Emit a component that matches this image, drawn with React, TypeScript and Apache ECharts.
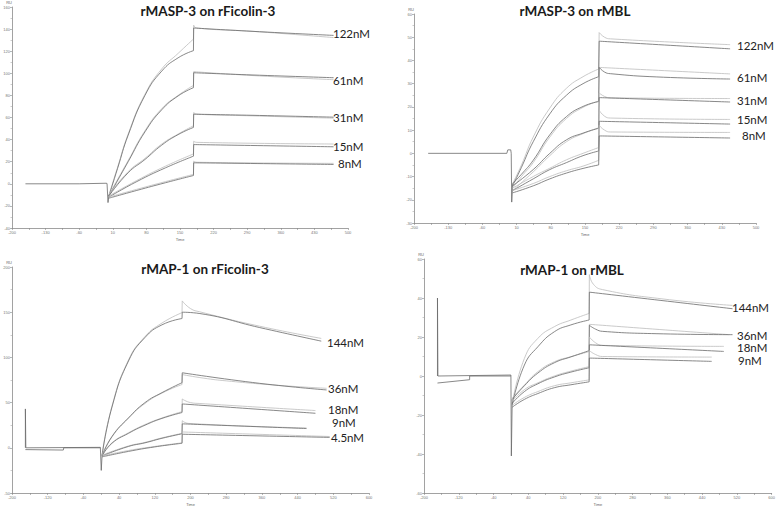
import React, { useEffect, useRef } from "react";
import * as echarts from "echarts";

// Each curve: association phase (A) and dissociation phase (D), [time s, response RU]

// ---------- Panel A: rMASP-3 on rFicolin-3 ----------
const tlBase = [[-172, 0], [-60, 0], [-4, 0.5], [-2, 0.3], [0, -17], [2, -10]];
const tl122LightA = [[2, -10], [20, 15], [42, 45], [77, 81], [112, 104], [146, 118], [178, 131]];
const tl122LightD = [[178.5, 143.5], [185, 141], [300, 138], [470, 132.3]];
const tl122DarkA = [[2, -11], [20, 14], [42, 44], [77, 80], [112, 102], [146, 114], [178, 120.5]];
const tl122DarkD = [[178.5, 141], [300, 138], [470, 134.3]];
const tl61LightA = [[2, -10], [42, 21], [77, 48], [112, 68], [146, 80], [178, 89]];
const tl61LightD = [[178.5, 101.5], [300, 98], [470, 94.2]];
const tl61DarkA = [[2, -11], [42, 20], [77, 47], [112, 67], [146, 79.5], [178, 87]];
const tl61DarkD = [[178.5, 100.5], [300, 98.5], [470, 96]];
const tl31LightA = [[2, -10], [42, 11], [77, 23], [112, 36], [146, 45], [178, 52.5]];
const tl31LightD = [[178.5, 64.5], [185, 63], [300, 61.5], [470, 59.4]];
const tl31DarkA = [[2, -11], [42, 10], [77, 22], [112, 35], [146, 44.5], [178, 51]];
const tl31DarkD = [[178.5, 63], [300, 62], [470, 60.3]];
const tl15LightA = [[2, -11], [60, 3], [120, 16], [178, 27]];
const tl15LightD = [[178.5, 38.5], [185, 37.5], [470, 36]];
const tl15DarkA = [[2, -12], [60, 2], [120, 14.5], [178, 25]];
const tl15DarkD = [[178.5, 35.5], [470, 33.5]];
const tl8LightA = [[2, -12], [60, -5], [120, 2], [178, 8.5]];
const tl8LightD = [[178.5, 20.5], [185, 19.5], [470, 18.5]];
const tl8DarkA = [[2, -13], [60, -6], [120, 1], [178, 7.5]];
const tl8DarkD = [[178.5, 19], [470, 17.5]];

// ---------- Panel B: rMASP-3 on rMBL ----------
const trBase = [[-171, 0], [-10, 0], [-8, 1.5], [-2, 1.5], [-1, 0], [0, -21], [2, -13]];
const tr122LightA = [[2, -13], [20, -5], [44, 7], [78, 19.5], [112, 28], [146, 33], [178, 36.3]];
const tr122LightD = [[179, 52], [190, 50], [202, 49.3], [447, 46.8]];
const tr122DarkA = [[2, -14], [20, -6], [44, 5], [78, 17], [112, 25], [146, 30], [178, 33]];
const tr122DarkD = [[179, 48.3], [447, 45]];
const tr61LightA = [[2, -15], [20, -10], [44, -4], [78, 7], [112, 15], [146, 19.8], [178, 22.5]];
const tr61LightD = [[179, 37], [447, 34.2]];
const tr61DarkA = [[2, -13], [20, -9], [44, -3], [78, 8], [112, 15.8], [146, 20.2], [178, 22.3]];
const tr61DarkD = [[179, 37], [190, 35], [202, 34.3], [297, 32.9], [447, 32]];
const tr31LightA = [[2, -16], [44, -8], [78, -1], [112, 5], [146, 8.5], [178, 11]];
const tr31LightD = [[179, 26], [190, 24.5], [202, 23.9], [447, 23.6]];
const tr31DarkA = [[2, -14], [44, -7], [78, 0], [112, 5.8], [146, 8.7], [178, 10.8]];
const tr31DarkD = [[179, 24], [447, 22.1]];
const tr15LightA = [[2, -15], [44, -10], [78, -6.4], [112, -2.8], [146, 0], [178, 2.5]];
const tr15LightD = [[179, 18.5], [190, 16], [202, 15.2], [447, 14.6]];
const tr15DarkA = [[2, -16], [44, -11], [78, -7], [112, -4], [146, -1], [178, 1]];
const tr15DarkD = [[179, 13.8], [447, 12.6]];
const tr8LightA = [[2, -16], [44, -13], [78, -10], [112, -7.5], [146, -5.5], [178, -3]];
const tr8LightD = [[179, 12], [190, 10], [202, 9.2], [447, 9]];
const tr8DarkA = [[2, -17], [44, -14], [78, -11], [112, -8.5], [146, -6.5], [178, -5]];
const tr8DarkD = [[179, 7.5], [447, 6.6]];

// ---------- Panel C: rMAP-1 on rFicolin-3 ----------
const blBase = [[-170, 0], [-170, 43], [-169, 0], [-2, 0.5], [0, -25], [2, -7]];
const blBaseDark = [[-170, -2], [-85, -2.5], [-84, 0], [-2, 0]];
const bl144LightA = [[2, -7], [24, 46], [61, 97], [98, 123], [136, 138], [181, 149.5]];
const bl144LightD = [[181.5, 162.5], [200, 154], [221, 150.4], [355, 134.5], [493, 121]];
const bl144DarkA = [[2, -8], [24, 45], [61, 96], [98, 122], [136, 136], [181, 143]];
const bl144DarkD = [[181.5, 150], [221, 148.5], [355, 133], [493, 118]];
const bl36LightA = [[2, -8], [24, 12], [61, 33], [98, 49], [136, 60.5], [181, 70]];
const bl36LightD = [[181.5, 81], [230, 77], [281, 74], [400, 69], [505, 65.8]];
const bl36DarkA = [[2, -9], [24, 12.5], [61, 33], [98, 50], [136, 61], [181, 72]];
const bl36DarkD = [[181.5, 83], [355, 71.3], [505, 64]];
const bl18LightA = [[2, -8], [24, 5.5], [61, 16.6], [98, 25.7], [136, 33], [181, 40]];
const bl18LightD = [[181.5, 54], [200, 50], [221, 49], [480, 41.2]];
const bl18DarkA = [[2, -9], [24, 5], [61, 16], [98, 25], [136, 32.5], [181, 39]];
const bl18DarkD = [[181.5, 48.5], [480, 38.2]];
const bl9LightA = [[2, -8], [61, 2], [98, 6], [136, 11], [181, 16]];
const bl9LightD = [[181.5, 30], [195, 27], [460, 22]];
const bl9DarkA = [[2, -9], [61, 1.5], [98, 5.5], [136, 10.5], [181, 15.5]];
const bl9DarkD = [[181.5, 26.5], [460, 21.3]];
const bl4LightA = [[2, -9], [61, -3], [120, 1.5], [181, 5.5]];
const bl4LightD = [[181.5, 17.5], [512, 12.5]];
const bl4DarkA = [[2, -10], [61, -4], [120, 1], [181, 5]];
const bl4DarkD = [[181.5, 15], [512, 11.5]];

// ---------- Panel D: rMAP-1 on rMBL ----------
const brBase = [[-169, 0], [-169, 40], [-168, 0], [0, 0.5], [1, -41], [3, -12]];
const brBaseDark = [[-169, -3.6], [-95, -1.9], [-95, 0], [0, 0]];
const br144LightA = [[3, -14], [31, 9], [62, 19.3], [100, 25.3], [138, 28.7], [180, 32.1]];
const br144LightD = [[180.5, 52], [190, 47], [211, 44.3], [350, 39.5], [510, 36.2]];
const br144DarkA = [[3, -15], [31, 5.6], [62, 15], [100, 22.7], [138, 26.2], [180, 28.7]];
const br144DarkD = [[180.5, 43], [510, 34.5]];
const br36LightA = [[3, -11.4], [31, -4.6], [62, 2.2], [100, 7.3], [138, 9.9], [180, 12.5]];
const br36LightD = [[180.5, 26.5], [502, 21.2]];
const br36DarkA = [[3, -12], [31, -5], [62, 1.5], [100, 6.8], [138, 9.8], [180, 13]];
const br36DarkD = [[180.5, 26], [195, 24], [211, 22.9], [334, 21.7], [510, 21.2]];
const br18LightA = [[3, -13], [31, -7], [62, -3.5], [100, 0], [138, 2.5], [180, 4.8]];
const br18LightD = [[180.5, 20], [195, 17], [211, 15.7], [490, 15.2]];
const br18DarkA = [[3, -14], [31, -8], [62, -4], [100, -0.5], [138, 2], [180, 4.2]];
const br18DarkD = [[180.5, 16], [490, 12.6]];
const br9LightA = [[3, -15], [31, -11], [62, -8], [100, -5], [138, -3.5], [180, -2]];
const br9LightD = [[180.5, 13], [195, 11], [211, 10], [462, 9.7]];
const br9DarkA = [[3, -16], [31, -12], [62, -9], [100, -6], [138, -4.5], [180, -3]];
const br9DarkD = [[180.5, 9.2], [462, 7.5]];

// ---------- Axes / texts ----------
const xLabelsTop = [-200, -130, -60, 10, 80, 150, 220, 290, 360, 430, 500];
const xMinorTop = [-165, -95, -25, 45, 115, 185, 255, 325, 395, 465];
const xLabelsBottom = [-200, -120, -40, 40, 120, 200, 280, 360, 440, 520, 600];
const xMinorBottom = [-160, -80, 0, 80, 160, 240, 320, 400, 480, 560];

const titles = ["rMASP-3 on rFicolin-3", "rMASP-3 on rMBL", "rMAP-1 on rFicolin-3", "rMAP-1 on rMBL"];
const labelsA = ["122nM", "61nM", "31nM", "15nM", "8nM"];
const labelsB = ["122nM", "61nM", "31nM", "15nM", "8nM"];
const labelsC = ["144nM", "36nM", "18nM", "9nM", "4.5nM"];
const labelsD = ["144nM", "36nM", "18nM", "9nM"];

const DARK = "#6a6a6a";
const LIGHT = "#bdbdbd";

const grids = [
  { left: 12, top: 6, width: 336, height: 222 },
  { left: 414, top: 14, width: 342, height: 209 },
  { left: 12, top: 267, width: 357, height: 227 },
  { left: 424, top: 259, width: 349, height: 234 },
];

const axisLine = { onZero: false, lineStyle: { color: "#8a8a8a", width: 0.8 } };
const axisTick = { length: 2, lineStyle: { color: "#8a8a8a", width: 0.6 } };
const axisLabel = { fontSize: 4, color: "#777", margin: 2, fontFamily: "Liberation Sans" };

function xAxis(i: number, min: number, max: number, labels: number[], minor: number[]) {
  return {
    type: "value", gridIndex: i, min, max,
    name: "Time", nameLocation: "middle", nameGap: 9,
    nameTextStyle: { fontSize: 4, color: "#666", fontFamily: "Liberation Sans" },
    axisLine, axisTick: { ...axisTick, customValues: [...labels, ...minor].sort((a, b) => a - b) },
    axisLabel: { ...axisLabel, customValues: labels },
    splitLine: { show: false },
  };
}
function yAxis(i: number, min: number, max: number, interval: number) {
  return {
    type: "value", gridIndex: i, min, max, interval,
    name: "RU", nameLocation: "end", nameGap: 3,
    nameTextStyle: { fontSize: 4, color: "#666", align: "right", fontFamily: "Liberation Sans" },
    axisLine: { ...axisLine, show: true }, axisTick: { ...axisTick, show: true },
    minorTick: { show: true, splitNumber: 2, length: 1.5, lineStyle: { color: "#9a9a9a", width: 0.5 } },
    axisLabel, splitLine: { show: false },
  };
}

// [panel, association, dissociation, colour]
const curves: [number, number[][], number[][], string][] = [
  [0, tl122LightA, tl122LightD, LIGHT], [0, tl122DarkA, tl122DarkD, DARK],
  [0, tl61LightA, tl61LightD, LIGHT], [0, tl61DarkA, tl61DarkD, DARK],
  [0, tl31LightA, tl31LightD, LIGHT], [0, tl31DarkA, tl31DarkD, DARK],
  [0, tl15LightA, tl15LightD, LIGHT], [0, tl15DarkA, tl15DarkD, DARK],
  [0, tl8LightA, tl8LightD, LIGHT], [0, tl8DarkA, tl8DarkD, DARK],
  [1, tr122LightA, tr122LightD, LIGHT], [1, tr122DarkA, tr122DarkD, DARK],
  [1, tr61LightA, tr61LightD, LIGHT], [1, tr61DarkA, tr61DarkD, DARK],
  [1, tr31LightA, tr31LightD, LIGHT], [1, tr31DarkA, tr31DarkD, DARK],
  [1, tr15LightA, tr15LightD, LIGHT], [1, tr15DarkA, tr15DarkD, DARK],
  [1, tr8LightA, tr8LightD, LIGHT], [1, tr8DarkA, tr8DarkD, DARK],
  [2, bl144LightA, bl144LightD, LIGHT], [2, bl144DarkA, bl144DarkD, DARK],
  [2, bl36LightA, bl36LightD, LIGHT], [2, bl36DarkA, bl36DarkD, DARK],
  [2, bl18LightA, bl18LightD, LIGHT], [2, bl18DarkA, bl18DarkD, DARK],
  [2, bl9LightA, bl9LightD, LIGHT], [2, bl9DarkA, bl9DarkD, DARK],
  [2, bl4LightA, bl4LightD, LIGHT], [2, bl4DarkA, bl4DarkD, DARK],
  [3, br144LightA, br144LightD, LIGHT], [3, br144DarkA, br144DarkD, DARK],
  [3, br36LightA, br36LightD, LIGHT], [3, br36DarkA, br36DarkD, DARK],
  [3, br18LightA, br18LightD, LIGHT], [3, br18DarkA, br18DarkD, DARK],
  [3, br9LightA, br9LightD, LIGHT], [3, br9DarkA, br9DarkD, DARK],
];
const bases: [number, number[][]][] = [
  [0, tlBase], [1, trBase], [2, blBase], [2, blBaseDark], [3, brBase], [3, brBaseDark],
];

const labelPos: [string[], number[][]][] = [
  [labelsA, [[333, 33], [333, 80], [333, 117], [333, 146], [338, 163]]],
  [labelsB, [[737, 45], [737, 77], [737, 100], [737, 119], [742, 135]]],
  [labelsC, [[327, 342], [328, 388], [328, 409], [332, 422], [331, 437]]],
  [labelsD, [[732, 307], [737, 335], [737, 347], [738, 360]]],
];
const titlePos = [[208, 11], [575, 11], [205, 269], [572, 270]];

function lineSeries(g: number, data: number[][], color: string, smooth: number | boolean) {
  return {
    type: "line", xAxisIndex: g, yAxisIndex: g, data,
    symbol: "none", showSymbol: false, silent: true, smooth,
    lineStyle: { color, width: 0.8 },
  };
}

export default function App() {
  const ref = useRef<HTMLDivElement>(null);
  useEffect(() => {
    const chart = echarts.init(ref.current!, null, { renderer: "svg" });
    const graphic: any[] = [];
    titles.forEach((t, i) => {
      graphic.push({
        type: "text", x: titlePos[i][0], y: titlePos[i][1],
        style: { text: t, fontSize: 13.5, fontWeight: "bold", fontFamily: "Lato", fill: "#1a1a1a", align: "center", verticalAlign: "middle" },
      });
    });
    labelPos.forEach(([names, pos]) => {
      names.forEach((n, j) => {
        graphic.push({
          type: "text", x: pos[j][0], y: pos[j][1],
          style: { text: n, fontSize: 11.5, lineHeight: 10, fontFamily: "Lato", fill: "#222", align: "left", verticalAlign: "middle" },
        });
      });
    });
    const series: any[] = [];
    bases.forEach(([g, d]) => series.push(lineSeries(g, d, DARK, false)));
    curves.forEach(([g, a, d, c]) => {
      series.push(lineSeries(g, a, c, 0.5));
      series.push(lineSeries(g, [a[a.length - 1], d[0]], c, false));
      series.push(lineSeries(g, d, c, 0.5));
    });
    chart.setOption({
      animation: false,
      backgroundColor: "#ffffff",
      grid: grids,
      xAxis: [
        xAxis(0, -200, 500, xLabelsTop, xMinorTop), xAxis(1, -200, 500, xLabelsTop, xMinorTop),
        xAxis(2, -200, 600, xLabelsBottom, xMinorBottom), xAxis(3, -200, 600, xLabelsBottom, xMinorBottom),
      ],
      yAxis: [yAxis(0, -40, 160, 20), yAxis(1, -30, 60, 10), yAxis(2, -50, 200, 50), yAxis(3, -60, 60, 20)],
      series,
      graphic,
    });
    return () => chart.dispose();
  }, []);
  return <div ref={ref} style={{ position: "absolute", left: 0, top: 0, width: 778, height: 507 }} />;
}
